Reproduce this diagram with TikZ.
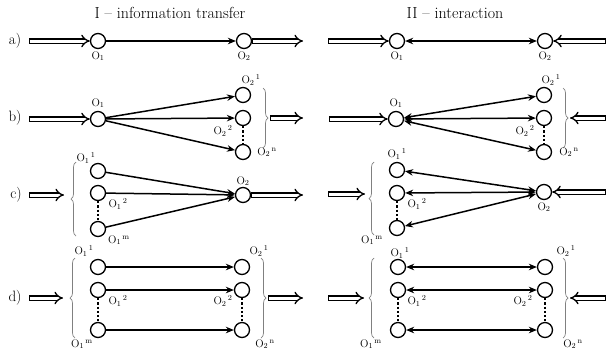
\documentclass[tikz,border=0pt]{standalone}
\usepackage{fontspec}
\usepackage{tikz}
\usetikzlibrary{arrows.meta,decorations.pathreplacing}
\tikzstyle{node:obj}=[circle,draw,line width=1.3pt,minimum size=15pt,inner sep=0pt]
\tikzstyle{node:label}=[inner sep=0pt,font=\fontsize{11}{12}\selectfont]
\tikzstyle{node:row}=[inner sep=0pt,font=\fontsize{15}{17}\selectfont]
\tikzstyle{node:title}=[inner sep=0pt,font=\fontsize{16}{18}\selectfont]
\tikzstyle{draw:flow}=[double,double distance=3pt,line width=1.3pt,{Bar[width=5.6pt]}-{Implies}]
\tikzstyle{draw:link}=[line width=1.5pt,-{Stealth[length=8pt,width=6.5pt]}]
\tikzstyle{draw:both}=[line width=1.5pt,{Stealth[length=8pt,width=6.5pt]}-{Stealth[length=8pt,width=6.5pt]}]
\tikzstyle{draw:dots}=[line width=2.8pt,dash pattern=on 2.2pt off 2pt]
\tikzstyle{draw:brace}=[decorate,decoration={brace,amplitude=5pt},gray,line width=0.7pt]
\newcommand{\Olab}[2]{O\textsubscript{#1}\textsuperscript{\,#2}}
\begin{document}
\begin{tikzpicture}[x=1pt,y=-1pt]
        \useasboundingbox (0,0) rectangle (609,362);

        % Titles
        \node[node:title] (T1) at (170,13) {I -- information transfer};
        \node[node:title] (T2) at (455,13) {II -- interaction};

        % Row labels
        \node[node:row] (Ra) at (15,41) {a)};
        \node[node:row] (Rb) at (15,118) {b)};
        \node[node:row] (Rc) at (16,195) {c)};
        \node[node:row] (Rd) at (15,298) {d)};

        % ---------- I: information transfer ----------
        % a)
        \node[node:obj] (La1) at (98,41) {};
        \node[node:obj] (La2) at (244,41) {};
        \coordinate (La-in) at (29,41);
        \coordinate (La-out) at (303,41);
        \draw[draw:flow] (La-in) -- (La1);
        \draw[draw:link] (La1) -- (La2);
        \draw[draw:flow] (La2) -- (La-out);
        \node[node:label] at (98,56) {O\textsubscript{1}};
        \node[node:label] at (244,56) {O\textsubscript{2}};

        % b)
        \node[node:obj] (Lb1) at (98,119) {};
        \node[node:obj] (Lb2-1) at (243,95) {};
        \node[node:obj] (Lb2-2) at (243,118) {};
        \node[node:obj] (Lb2-n) at (243,152) {};
        \coordinate (Lb-in) at (29,119);
        \coordinate (Lb-tip) at (270,118);
        \coordinate (Lb-out) at (303,118);
        \draw[draw:flow] (Lb-in) -- (Lb1);
        \foreach \j in {1,2,n} {
                \draw[draw:link] (Lb1) -- (Lb2-\j);
            }
        \draw[draw:dots] (Lb2-2.south) -- (Lb2-n.north);
        \draw[draw:brace] (263,88) -- (263,148);
        \draw[draw:flow] (Lb-tip) -- (Lb-out);
        \node[node:label] at (98,103) {O\textsubscript{1}};
        \node[node:label] at (251,80) {\Olab{2}{1}};
        \node[node:label] at (223,131) {\Olab{2}{2}};
        \node[node:label] at (267,152) {\Olab{2}{n}};

        % c)
        \node[node:obj] (Lc1-1) at (98,171) {};
        \node[node:obj] (Lc1-2) at (98,193) {};
        \node[node:obj] (Lc1-m) at (98,229) {};
        \node[node:obj] (Lc2) at (243,195) {};
        \coordinate (Lc-in) at (29,195);
        \coordinate (Lc-tip) at (64,195);
        \coordinate (Lc-out) at (303,195);
        \draw[draw:flow] (Lc-in) -- (Lc-tip);
        \draw[draw:brace] (76,236) -- (76,162);
        \foreach \i in {1,2,m} {
                \draw[draw:link] (Lc1-\i) -- (Lc2);
            }
        \draw[draw:dots] (Lc1-2.south) -- (Lc1-m.north);
        \draw[draw:flow] (Lc2) -- (Lc-out);
        \node[node:label] at (86,158) {\Olab{1}{1}};
        \node[node:label] at (118,204) {\Olab{1}{2}};
        \node[node:label] at (119,240) {\Olab{1}{m}};
        \node[node:label] at (243,181) {O\textsubscript{2}};

        % d)
        \foreach \i/\y in {1/267,2/290,m/330} {
                \node[node:obj] (Ld1-\i) at (98,\y) {};
            }
        \foreach \j/\y in {1/267,2/290,n/330} {
                \node[node:obj] (Ld2-\j) at (242,\y) {};
            }
        \coordinate (Ld-in) at (29,298);
        \coordinate (Ld-tip) at (63,298);
        \coordinate (Ld-tip2) at (268,298);
        \coordinate (Ld-out) at (303,298);
        \draw[draw:flow] (Ld-in) -- (Ld-tip);
        \draw[draw:brace] (75,338) -- (75,258);
        \foreach \i/\j in {1/1,2/2,m/n} {
                \draw[draw:link] (Ld1-\i) -- (Ld2-\j);
            }
        \draw[draw:dots] (Ld1-2.south) -- (Ld1-m.north);
        \draw[draw:dots] (Ld2-2.south) -- (Ld2-n.north);
        \draw[draw:brace] (261,258) -- (261,338);
        \draw[draw:flow] (Ld-tip2) -- (Ld-out);
        \node[node:label] at (84,251) {\Olab{1}{1}};
        \node[node:label] at (259,251) {\Olab{2}{1}};
        \node[node:label] at (118,301) {\Olab{1}{2}};
        \node[node:label] at (223,301) {\Olab{2}{2}};
        \node[node:label] at (82,344) {\Olab{1}{m}};
        \node[node:label] at (265,344) {\Olab{2}{n}};

        % ---------- II: interaction ----------
        % a)
        \node[node:obj] (Ra1) at (397,41) {};
        \node[node:obj] (Ra2) at (545,41) {};
        \coordinate (Ra-in) at (328,41);
        \coordinate (Ra-in2) at (606,41);
        \draw[draw:flow] (Ra-in) -- (Ra1);
        \draw[draw:both] (Ra1) -- (Ra2);
        \draw[draw:flow] (Ra-in2) -- (Ra2);
        \node[node:label] at (397,56) {O\textsubscript{1}};
        \node[node:label] at (545,56) {O\textsubscript{2}};

        % b)
        \node[node:obj] (Rb1) at (396,119) {};
        \node[node:obj] (Rb2-1) at (544,95) {};
        \node[node:obj] (Rb2-2) at (544,118) {};
        \node[node:obj] (Rb2-n) at (544,152) {};
        \coordinate (Rb-in) at (329,119);
        \coordinate (Rb-tip) at (570,118);
        \coordinate (Rb-in2) at (606,118);
        \draw[draw:flow] (Rb-in) -- (Rb1);
        \foreach \j in {1,2,n} {
                \draw[draw:both] (Rb1) -- (Rb2-\j);
            }
        \draw[draw:dots] (Rb2-2.south) -- (Rb2-n.north);
        \draw[draw:brace] (563,88) -- (563,148);
        \draw[draw:flow] (Rb-in2) -- (Rb-tip);
        \node[node:label] at (396,103) {O\textsubscript{1}};
        \node[node:label] at (551,80) {\Olab{2}{1}};
        \node[node:label] at (525,131) {\Olab{2}{2}};
        \node[node:label] at (569,152) {\Olab{2}{n}};

        % c)
        \node[node:obj] (Rc1-1) at (397,170) {};
        \node[node:obj] (Rc1-2) at (397,193) {};
        \node[node:obj] (Rc1-m) at (397,228) {};
        \node[node:obj] (Rc2) at (544,192) {};
        \coordinate (Rc-in) at (328,194);
        \coordinate (Rc-tip) at (365,194);
        \coordinate (Rc-in2) at (606,192);
        \draw[draw:flow] (Rc-in) -- (Rc-tip);
        \draw[draw:brace] (374,235) -- (374,162);
        \foreach \i in {1,2,m} {
                \draw[draw:both] (Rc1-\i) -- (Rc2);
            }
        \draw[draw:dots] (Rc1-2.south) -- (Rc1-m.north);
        \draw[draw:flow] (Rc-in2) -- (Rc2);
        \node[node:label] at (397,154) {\Olab{1}{1}};
        \node[node:label] at (417,204) {\Olab{1}{2}};
        \node[node:label] at (372,240) {\Olab{1}{m}};
        \node[node:label] at (544,207) {O\textsubscript{2}};

        % d)
        \foreach \i/\y in {1/267,2/290,m/330} {
                \node[node:obj] (Rd1-\i) at (398,\y) {};
            }
        \foreach \j/\y in {1/267,2/290,n/330} {
                \node[node:obj] (Rd2-\j) at (545,\y) {};
            }
        \coordinate (Rd-in) at (328,298);
        \coordinate (Rd-tip) at (364,298);
        \coordinate (Rd-tip2) at (570,298);
        \coordinate (Rd-in2) at (606,298);
        \draw[draw:flow] (Rd-in) -- (Rd-tip);
        \draw[draw:brace] (374,338) -- (374,258);
        \foreach \i/\j in {1/1,2/2,m/n} {
                \draw[draw:both] (Rd1-\i) -- (Rd2-\j);
            }
        \draw[draw:dots] (Rd1-2.south) -- (Rd1-m.north);
        \draw[draw:dots] (Rd2-2.south) -- (Rd2-n.north);
        \draw[draw:brace] (563,258) -- (563,338);
        \draw[draw:flow] (Rd-in2) -- (Rd-tip2);
        \node[node:label] at (400,253) {\Olab{1}{1}};
        \node[node:label] at (566,251) {\Olab{2}{1}};
        \node[node:label] at (417,301) {\Olab{1}{2}};
        \node[node:label] at (523,301) {\Olab{2}{2}};
        \node[node:label] at (371,344) {\Olab{1}{m}};
        \node[node:label] at (573,344) {\Olab{2}{n}};
    \end{tikzpicture}
\end{document}
